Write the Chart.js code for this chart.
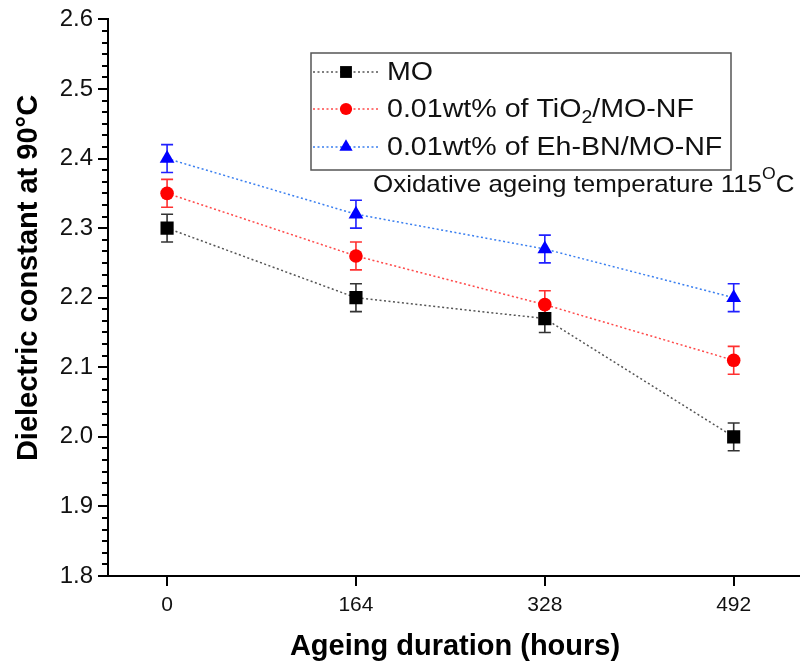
<!DOCTYPE html>
<html>
<head>
<meta charset="utf-8">
<script src="https://cdn.jsdelivr.net/npm/chart.js@4.4.0/dist/chart.umd.min.js"></script>
<style>
html,body{margin:0;padding:0;background:#fff;}
#wrap{width:800px;height:666px;position:relative;}
</style>
</head>
<body>
<div id="wrap"><canvas id="c" width="800" height="666"></canvas></div>
<script>
// ---- data ----
const hours = [0, 164, 328, 492];
const moValues = [2.30, 2.20, 2.17, 2.00];
const tio2Values = [2.35, 2.26, 2.19, 2.11];
const ehbnValues = [2.40, 2.32, 2.27, 2.20];
const moErr = [0.02, 0.02, 0.02, 0.02];
const tio2Err = [0.02, 0.02, 0.02, 0.02];
const ehbnErr = [0.02, 0.02, 0.02, 0.02];
const seriesLabels = ['MO', '0.01wt% of TiO2/MO-NF', '0.01wt% of Eh-BN/MO-NF'];
const yTickLabels = ['1.8','1.9','2.0','2.1','2.2','2.3','2.4','2.5','2.6'];
const xTitle = 'Ageing duration (hours)';
const yTitle = 'Dielectric constant at 90°C';

const FONT = '"Liberation Sans", Arial, sans-serif';

function pts(vals){ return hours.map((h,i)=>({x:h, y:vals[i]})); }

const datasets = [
  {label: seriesLabels[0], data: pts(moValues), err: moErr,
   borderColor:'#555555', errColor:'#333333', backgroundColor:'#000000', pointBackgroundColor:'#000000', pointBorderColor:'#000000',
   pointStyle:'rect', pointRadius:9.3, borderWidth:1.5, borderDash:[2,2.5], pointBorderWidth:0},
  {label: seriesLabels[1], data: pts(tio2Values), err: tio2Err,
   borderColor:'#ff4a4a', errColor:'#ff3030', backgroundColor:'#ff0000', pointBackgroundColor:'#ff0000', pointBorderColor:'#ff0000',
   pointStyle:'circle', pointRadius:6.8, borderWidth:1.5, borderDash:[2,2.5], pointBorderWidth:0},
  {label: seriesLabels[2], data: pts(ehbnValues), err: ehbnErr,
   borderColor:'#3a7ff0', errColor:'#2020ff', backgroundColor:'#0000ff', pointBackgroundColor:'#0000ff', pointBorderColor:'#0000ff',
   pointStyle:'triangle', pointRadius:8.5, borderWidth:1.5, borderDash:[2,2.5], pointBorderWidth:0}
];

const errorBars = {
  id:'errorBars',
  beforeDatasetsDraw(chart){
    const ctx = chart.ctx, xs = chart.scales.x, ys = chart.scales.y;
    chart.data.datasets.forEach(ds=>{
      ctx.save();
      ctx.strokeStyle = ds.errColor; ctx.lineWidth = 1.6;
      ds.data.forEach((p,i)=>{
        const x = xs.getPixelForValue(p.x);
        const yt = ys.getPixelForValue(p.y + ds.err[i]);
        const yb = ys.getPixelForValue(p.y - ds.err[i]);
        ctx.beginPath();
        ctx.moveTo(x, yt); ctx.lineTo(x, yb);
        ctx.moveTo(x-6, yt); ctx.lineTo(x+6, yt);
        ctx.moveTo(x-6, yb); ctx.lineTo(x+6, yb);
        ctx.stroke();
      });
      ctx.restore();
    });
  }
};

const minorTicks = {
  id:'minorTicks',
  afterDraw(chart){
    const ctx = chart.ctx, ys = chart.scales.y, ca = chart.chartArea;
    ctx.save();
    ctx.strokeStyle = '#000'; ctx.lineWidth = 2;
    for (let k = 0; k < 8*6; k++){
      if (k % 6 === 0) continue;
      const v = 1.8 + k*(0.1/6);
      const y = Math.round(ys.getPixelForValue(v));
      ctx.beginPath(); ctx.moveTo(ca.left-6, y); ctx.lineTo(ca.left, y); ctx.stroke();
    }
    // x axis line runs on to the right edge of the figure
    ctx.beginPath(); ctx.moveTo(ca.right-1, ca.bottom); ctx.lineTo(chart.width, ca.bottom); ctx.stroke();
    ctx.restore();
  }
};

function drawRich(ctx, parts, x, y, sx){
  ctx.save();
  ctx.translate(x, y);
  ctx.scale(sx, 1);
  let cx = 0;
  parts.forEach(p=>{
    ctx.save();
    let dy = 0;
    if (p.sub || p.sup){
      const size = parseFloat(ctx.font.match(/(\d+(\.\d+)?)px/)[1]);
      ctx.font = ctx.font.replace(/(\d+(\.\d+)?)px/, (size*0.68).toFixed(1)+'px');
      dy = p.sub ? size*0.3 : -size*0.42;
    }
    ctx.fillText(p.t, cx, dy);
    cx += ctx.measureText(p.t).width;
    ctx.restore();
  });
  ctx.restore();
}

const customLegend = {
  id:'customLegend',
  afterDraw(chart){
    const ctx = chart.ctx;
    const bx = 311, by = 53, bw = 420, bh = 117;
    ctx.save();
    ctx.strokeStyle = '#555'; ctx.lineWidth = 1.5;
    ctx.strokeRect(bx, by, bw, bh);
    const rows = [72, 109, 147];
    const texts = [
      [{t:'MO'}],
      [{t:'0.01wt% of TiO'},{t:'2',sub:true},{t:'/MO-NF'}],
      [{t:'0.01wt% of Eh-BN/MO-NF'}]
    ];
    chart.data.datasets.forEach((ds,i)=>{
      const y = rows[i];
      ctx.save();
      ctx.strokeStyle = ds.borderColor; ctx.lineWidth = 1.5; ctx.setLineDash([2,2.5]);
      ctx.beginPath(); ctx.moveTo(313, y); ctx.lineTo(378, y); ctx.stroke();
      ctx.restore();
      ctx.save();
      ctx.fillStyle = ds.pointBackgroundColor;
      ctx.strokeStyle = ds.pointBackgroundColor;
      Chart.helpers.drawPoint(ctx, {pointStyle: ds.pointStyle, radius: ds.pointRadius*0.9, rotation:0, borderWidth:0}, 346, y);
      ctx.restore();
      ctx.fillStyle = '#111';
      ctx.font = '26px ' + FONT;
      ctx.textBaseline = 'middle';
      drawRich(ctx, texts[i], 387, y+1, 1.1);
    });
    // annotation
    ctx.fillStyle = '#111';
    ctx.font = '23.6px ' + FONT;
    ctx.textBaseline = 'middle';
    drawRich(ctx, [{t:'Oxidative ageing temperature 115'},{t:'O',sup:true},{t:'C'}], 373, 185, 1.1);
    ctx.restore();
  }
};

const axisTitles = {
  id:'axisTitles',
  afterDraw(chart){
    const ctx = chart.ctx;
    ctx.save();
    ctx.fillStyle = '#000';
    ctx.font = 'bold 29px ' + FONT;
    ctx.textAlign = 'center';
    ctx.textBaseline = 'middle';
    ctx.fillText(xTitle, 455, 647);
    ctx.translate(29, 278);
    ctx.rotate(-Math.PI/2);
    ctx.fillText(yTitle, 0, 0);
    ctx.restore();
  }
};

new Chart(document.getElementById('c'), {
  type:'line',
  data:{datasets},
  options:{
    responsive:false, animation:false,
    layout:{padding:{top:18, right:0, left:0, bottom:0}},
    plugins:{legend:{display:false}, tooltip:{enabled:false}},
    scales:{
      x:{
        type:'linear', min:-51.3, max:541.5,
        afterBuildTicks(s){ s.ticks = hours.map(v=>({value:v})); },
        afterFit(s){ s.height = 90; },
        ticks:{color:'#111', font:{family:FONT, size:21}, padding:7, autoSkip:false, maxRotation:0,
               callback:(v)=>String(v)},
        grid:{display:true, drawOnChartArea:false, drawTicks:true, tickLength:10, color:'#000', lineWidth:2},
        border:{display:true, color:'#000', width:2}
      },
      y:{
        min:1.8, max:2.6,
        afterBuildTicks(s){ s.ticks = yTickLabels.map(t=>({value:parseFloat(t)})); },
        afterFit(s){ s.width = 108; },
        ticks:{color:'#111', font:{family:FONT, size:24}, padding:5,
               callback:(v,i)=>yTickLabels[i]},
        grid:{display:true, drawOnChartArea:false, drawTicks:true, tickLength:10, color:'#000', lineWidth:2},
        border:{display:true, color:'#000', width:2}
      }
    }
  },
  plugins:[errorBars, minorTicks, customLegend, axisTitles]
});
</script>
</body>
</html>
